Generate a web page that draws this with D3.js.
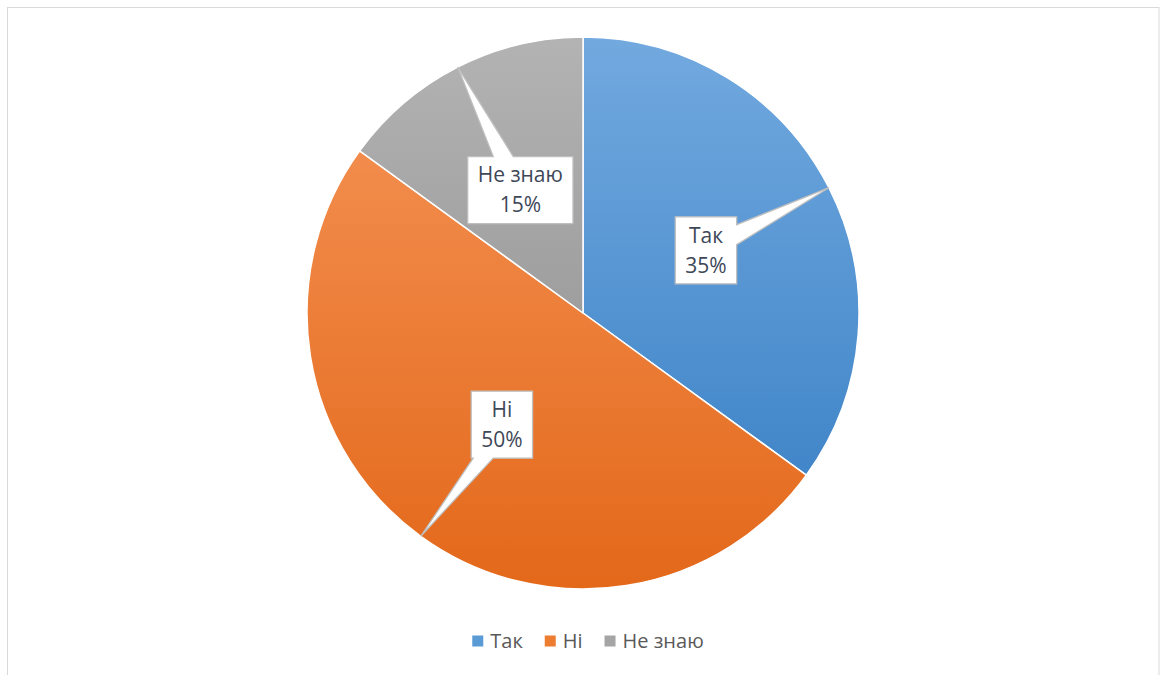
<!DOCTYPE html>
<html>
<head>
<meta charset="utf-8">
<script src="https://cdn.jsdelivr.net/npm/d3@7"></script>
<style>
  html, body { margin: 0; padding: 0; background: #fff; }
  svg { display: block; font-family: "Open Sans", "Noto Sans", sans-serif; }
</style>
</head>
<body>
<svg id="chart" width="1160" height="675"></svg>
<script>
// Survey answers and their shares (percent)
const categories = ["Так", "Ні", "Не знаю"];
const values = [35, 50, 15];
// Gradient stops per slice: [top, bottom]
const colorsTop = ["#72a9df", "#f28c4c", "#b3b3b3"];
const colorsBottom = ["#4186c9", "#e3681a", "#9e9e9e"];
const legendColors = ["#5b9bd5", "#ed7d31", "#a5a5a5"];

const W = 1160, H = 675;
const cx = 583, cy = 313, R = 276;

const svg = d3.select("#chart");

// Chart area frame
svg.append("rect")
  .attr("x", 7.5).attr("y", 7.5)
  .attr("width", W - 8.5).attr("height", H - 7)
  .attr("fill", "#fff").attr("stroke", "#d9d9d9").attr("stroke-width", 1);

const defs = svg.append("defs");
categories.forEach((c, i) => {
  const g = defs.append("linearGradient")
    .attr("id", "grad" + i)
    .attr("x1", 0).attr("y1", 0).attr("x2", 0).attr("y2", 1);
  g.append("stop").attr("offset", "0%").attr("stop-color", colorsTop[i]);
  g.append("stop").attr("offset", "100%").attr("stop-color", colorsBottom[i]);
});

const data = categories.map((c, i) => ({ name: c, value: values[i], idx: i }));

const pie = d3.pie().value(d => d.value).sort(null);
const arcs = pie(data);
const arc = d3.arc().innerRadius(0).outerRadius(R);

const gPie = svg.append("g").attr("transform", `translate(${cx},${cy})`);
gPie.selectAll("path.slice")
  .data(arcs)
  .enter().append("path")
  .attr("class", "slice")
  .attr("d", arc)
  .attr("fill", d => `url(#grad${d.data.idx})`)
  .attr("stroke", "#fff")
  .attr("stroke-width", 1.5)
  .attr("stroke-linejoin", "round");

// Callout labels: a box half way out along the slice's mid angle,
// with a pointer wedge running to the slice's outer edge.
const fontSize = 21, lineGap = 30, padX = 10, boxH = 67, baseW = 20;
const gLab = svg.append("g");

arcs.forEach(a => {
  const mid = (a.startAngle + a.endAngle) / 2;
  const bx = cx + Math.sin(mid) * R * 0.5;
  const by = cy - Math.cos(mid) * R * 0.5;
  const tx = cx + Math.sin(mid) * R;
  const ty = cy - Math.cos(mid) * R;

  const g = gLab.append("g");
  const shape = g.append("path");
  const lines = [a.data.name, d3.format(".0%")(a.data.value / 100)];
  const texts = lines.map((t, k) => g.append("text")
    .attr("x", bx)
    .attr("y", by + (k - 0.5) * lineGap)
    .attr("dy", "0.35em")
    .attr("text-anchor", "middle")
    .attr("font-size", fontSize)
    .attr("fill", "#3e4858")
    .text(t));
  const tw = d3.max(texts, t => t.node().getComputedTextLength());
  const hw = tw / 2 + padX, hh = boxH / 2;
  const x0 = bx - hw, x1 = bx + hw, y0 = by - hh, y1 = by + hh;

  const dx = tx - bx, dy = ty - by;
  const pts = [];
  if (Math.abs(dx) / hw > Math.abs(dy) / hh) {
    // pointer leaves from a vertical side
    const yc = Math.max(y0 + baseW / 2 + 2, Math.min(y1 - baseW / 2 - 2, by + dy * hw / Math.abs(dx)));
    if (dx > 0) {
      pts.push([x0, y0], [x1, y0], [x1, yc - baseW / 2], [tx, ty], [x1, yc + baseW / 2], [x1, y1], [x0, y1]);
    } else {
      pts.push([x0, y0], [x1, y0], [x1, y1], [x0, y1], [x0, yc + baseW / 2], [tx, ty], [x0, yc - baseW / 2]);
    }
  } else {
    const xc = Math.max(x0 + baseW / 2 + 2, Math.min(x1 - baseW / 2 - 2, bx + dx * hh / Math.abs(dy)));
    if (dy < 0) {
      pts.push([x0, y0], [xc - baseW / 2, y0], [tx, ty], [xc + baseW / 2, y0], [x1, y0], [x1, y1], [x0, y1]);
    } else {
      pts.push([x0, y0], [x1, y0], [x1, y1], [xc + baseW / 2, y1], [tx, ty], [xc - baseW / 2, y1], [x0, y1]);
    }
  }
  shape.attr("d", d3.line()(pts) + "Z")
    .attr("fill", "#fff")
    .attr("stroke", "#bfbfbf")
    .attr("stroke-width", 1.3)
    .attr("stroke-linejoin", "miter");
});

// Legend centred under the pie
const legend = svg.append("g");
const ly = 641, sq = 11, gapText = 7, gapItem = 22;
let lx = 0;
categories.forEach((c, i) => {
  const it = legend.append("g");
  it.append("rect").attr("x", 0).attr("y", ly - sq / 2).attr("width", sq).attr("height", sq)
    .attr("fill", legendColors[i]);
  const t = it.append("text")
    .attr("x", sq + gapText).attr("y", ly).attr("dy", "0.35em")
    .attr("font-size", 20).attr("fill", "#595959").text(c);
  const w = sq + gapText + t.node().getComputedTextLength();
  it.attr("transform", `translate(${lx},0)`);
  lx += w + gapItem;
});
const totalW = lx - gapItem;
legend.attr("transform", `translate(${588 - totalW / 2},0)`);
</script>
</body>
</html>
